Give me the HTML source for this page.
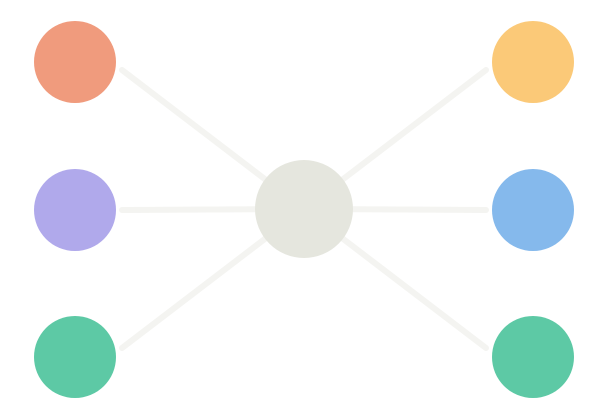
<!DOCTYPE html>
<html><head><meta charset="utf-8"><style>html,body{margin:0;padding:0;background:#fff}svg{display:block}</style></head>
<body>
<svg width="601" height="415" viewBox="0 0 601 415" xmlns="http://www.w3.org/2000/svg">
<g stroke="#f4f4f1" stroke-width="6" stroke-linecap="round">
<line x1="122" y1="70" x2="304" y2="209"/>
<line x1="122" y1="210" x2="304" y2="209"/>
<line x1="122" y1="348" x2="304" y2="209"/>
<line x1="486" y1="70" x2="304" y2="209"/>
<line x1="486" y1="210" x2="304" y2="209"/>
<line x1="486" y1="348" x2="304" y2="209"/>
</g>
<circle cx="75" cy="62" r="41" fill="#f09b7d"/>
<circle cx="75" cy="210" r="41" fill="#b0a9eb"/>
<circle cx="75" cy="357" r="41" fill="#5dc9a5"/>
<circle cx="533" cy="62" r="41" fill="#fbc978"/>
<circle cx="533" cy="210" r="41" fill="#85b9ec"/>
<circle cx="533" cy="357" r="41" fill="#5dc9a5"/>
<circle cx="304" cy="209" r="49" fill="#e5e6de"/>
</svg>
</body></html>
